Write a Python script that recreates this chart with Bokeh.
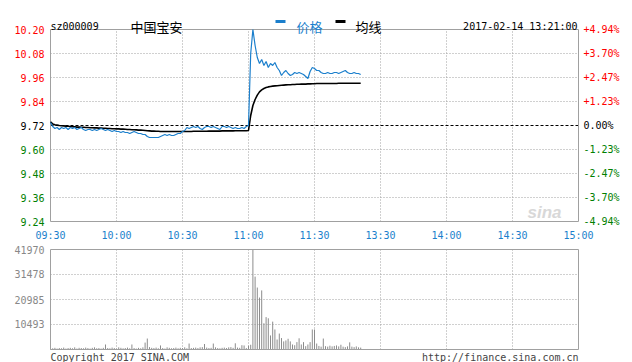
from bokeh.plotting import figure
from bokeh.layouts import column
from bokeh.models import ColumnDataSource, Range1d
from bokeh.core.properties import value
from bokeh.embed import file_html
from bokeh.resources import INLINE

# ---------------- data ----------------
code = "sz000009"
name = "中国宝安"
stamp = "2017-02-14 13:21:00"
legend_price = "价格"
legend_avg = "均线"
prev_close = 9.72

time_ticks = [0, 30, 60, 90, 120, 150, 180, 210, 240]
time_labels = ["09:30", "10:00", "10:30", "11:00", "11:30", "13:30", "14:00", "14:30", "15:00"]

price_ticks = [10.20, 10.08, 9.96, 9.84, 9.72, 9.60, 9.48, 9.36, 9.24]
pct_labels = ["+4.94%", "+3.70%", "+2.47%", "+1.23%", "0.00%", "-1.23%", "-2.47%", "-3.70%", "-4.94%"]
vol_ticks = [41970, 31478, 20985, 10493]

price = [
    9.735, 9.715, 9.705, 9.71, 9.70, 9.71, 9.705, 9.71, 9.70, 9.71,
    9.705, 9.71, 9.70, 9.705, 9.71, 9.70, 9.695, 9.70, 9.70, 9.695,
    9.70, 9.695, 9.70, 9.705, 9.70, 9.695, 9.70, 9.695, 9.69, 9.695,
    9.69, 9.69, 9.685, 9.69, 9.685, 9.685, 9.68, 9.685, 9.69, 9.685,
    9.68, 9.68, 9.675, 9.675, 9.665, 9.66, 9.66, 9.66, 9.66, 9.66,
    9.665, 9.67, 9.675, 9.67, 9.675, 9.67, 9.67, 9.675, 9.68, 9.68,
    9.69, 9.695, 9.71, 9.705, 9.71, 9.715, 9.71, 9.715, 9.705, 9.70,
    9.71, 9.715, 9.715, 9.71, 9.715, 9.71, 9.705, 9.70, 9.715, 9.715,
    9.71, 9.715, 9.71, 9.705, 9.71, 9.705, 9.705, 9.71, 9.705, 9.715,
    9.72, 10.08, 10.20, 10.12, 10.06, 10.03, 10.05, 10.02, 10.04, 10.01,
    10.03, 10.02, 10.035, 10.01, 9.995, 9.97, 9.985, 9.995, 9.98, 9.97,
    9.975, 9.985, 9.98, 9.985, 9.98, 9.975, 9.965, 9.955, 9.99, 10.01,
    10.005, 9.995, 9.995, 9.985, 9.98, 9.98, 9.985, 9.98, 9.98, 9.985,
    9.985, 9.98, 9.985, 9.99, 9.995, 9.985, 9.98, 9.98, 9.985, 9.98,
    9.98, 9.975,
]

avg = [
    9.738, 9.728, 9.724, 9.722, 9.720, 9.719, 9.718, 9.717, 9.716, 9.715,
    9.714, 9.713, 9.712, 9.712, 9.711, 9.711, 9.710, 9.710, 9.709, 9.709,
    9.708, 9.708, 9.707, 9.707, 9.706, 9.706, 9.705, 9.705, 9.704, 9.704,
    9.703, 9.703, 9.702, 9.702, 9.701, 9.700, 9.700, 9.699, 9.699, 9.698,
    9.697, 9.697, 9.696, 9.695, 9.694, 9.693, 9.692, 9.692, 9.691, 9.691,
    9.690, 9.690, 9.690, 9.690, 9.690, 9.690, 9.690, 9.690, 9.690, 9.690,
    9.690, 9.690, 9.690, 9.690, 9.690, 9.691, 9.691, 9.691, 9.691, 9.691,
    9.691, 9.691, 9.692, 9.692, 9.692, 9.692, 9.692, 9.692, 9.693, 9.693,
    9.693, 9.693, 9.693, 9.693, 9.694, 9.694, 9.694, 9.694, 9.694, 9.694,
    9.695,
    9.77, 9.82, 9.85, 9.872, 9.888, 9.898, 9.905, 9.910, 9.913, 9.915,
    9.917, 9.918, 9.919, 9.920, 9.921, 9.922, 9.923, 9.924, 9.924, 9.925,
    9.925, 9.926, 9.926, 9.927, 9.927, 9.927, 9.928, 9.928, 9.929, 9.929,
    9.930, 9.930, 9.930, 9.930, 9.930, 9.930, 9.930, 9.930, 9.930, 9.930,
    9.931, 9.931, 9.931, 9.931, 9.931, 9.931, 9.931, 9.931, 9.931, 9.931, 9.931,
]

volume = [
    1300, 500, 700, 400, 600, 500, 800, 400, 600, 700,
    500, 900, 400, 700, 600, 500, 800, 600, 400, 700,
    900, 500, 600, 400, 700, 2100, 600, 500, 800, 600,
    400, 900, 700, 500, 600, 800, 500, 2100, 600, 400,
    700, 500, 900, 2900, 4600, 1000, 700, 600, 800, 500,
    1700, 600, 400, 900, 700, 500, 600, 800, 500, 700,
    600, 900, 500, 2500, 600, 700, 800, 600, 900, 1000,
    2300, 800, 600, 700, 2500, 900, 600, 500, 700, 800,
    600, 900, 1000, 700, 2600, 800, 700, 1800, 1700, 600,
    1600,
    2000,
    41970, 30600, 26000, 21800, 24800, 11000, 13600, 13100, 5900, 11700,
    8400, 4200, 6700, 4800, 3400, 3800, 4500, 3400, 2100, 1800,
    3100, 4700, 2100, 3100, 1400, 2100, 3100, 8400, 8400, 2500,
    1500, 1200, 4600, 1400, 1200, 1600, 1300, 1500, 1700, 1300,
    2000, 1200, 1000, 1300, 3000, 1200, 1000, 1300, 900, 800,
]

minutes = list(range(len(price)))

# ---------------- styles / layout ----------------
BLUE = "#1B7FCC"
RED = "#FF0000"
GREEN = "#008000"
GRAY = "#A0A0A0"
MONO = "DejaVu Sans Mono"
CJK = "Noto Sans CJK SC"
FS = "10px"

W = 632
H1, H2 = 240, 122
P_LEFT, P_RIGHT = 50, 578          # panel edges in page pixels
P_TOP, P_BOTTOM = 29, 221          # price panel
V_TOP, V_BOTTOM = 9, 109           # volume panel (inside its own figure)

t0, t1 = time_ticks[0], time_ticks[-1]
ppm = (P_RIGHT - P_LEFT) / (t1 - t0)
x_start = t0 - P_LEFT / ppm
x_end = t1 + (W - P_RIGHT) / ppm

pmin, pmax = min(price_ticks), max(price_ticks)
ppy = (P_BOTTOM - P_TOP) / (pmax - pmin)
y_end = pmax + P_TOP / ppy
y_start = pmin - (H1 - P_BOTTOM) / ppy

vmax = max(vol_ticks)
vpy = (V_BOTTOM - V_TOP) / vmax
v_end = vmax + V_TOP / vpy
v_start = -(H2 - V_BOTTOM) / vpy


def mx(px):
    return x_start + px / ppm


def my(py):
    return y_end - py / ppy


def vy(py):
    return v_end - py / vpy


def label_color(v):
    if v > prev_close + 1e-9:
        return RED
    if v < prev_close - 1e-9:
        return GREEN
    return "#000000"


def bare(fig):
    fig.min_border = 0
    fig.outline_line_color = None
    fig.xgrid.visible = False
    fig.ygrid.visible = False
    fig.background_fill_color = "white"
    fig.border_fill_color = "white"


xr = Range1d(x_start, x_end)

# ---------------- main price panel ----------------
p = figure(width=W, height=H1, output_backend="svg", toolbar_location=None,
           x_range=xr, y_range=Range1d(y_start, y_end),
           x_axis_location=None, y_axis_location=None)
bare(p)

inner_t = time_ticks[1:-1]
p.segment(x0=inner_t, y0=[pmin] * len(inner_t), x1=inner_t, y1=[pmax] * len(inner_t),
          line_color=GRAY, line_dash="1 2", line_width=1)
inner_p = [t for t in price_ticks[1:-1] if abs(t - prev_close) > 1e-9]
p.segment(x0=[t0] * len(inner_p), y0=inner_p, x1=[t1] * len(inner_p), y1=inner_p,
          line_color=GRAY, line_dash="1 2", line_width=1)
p.segment(x0=[t0], y0=[prev_close], x1=[t1], y1=[prev_close],
          line_color="black", line_dash="3 2", line_width=1)
p.quad(left=[t0], right=[t1], bottom=[pmin], top=[pmax],
       fill_color=None, line_color=GRAY, line_width=1)

# watermark
p.text(x=[mx(527)], y=[my(212)], text=["sina"], text_font=value("Liberation Sans"),
       text_font_style="bold italic", text_font_size="17px", text_color="#D8D8D8",
       text_baseline="alphabetic")

p.line(minutes, avg, line_color="black", line_width=1.6)
p.line(minutes, price, line_color=BLUE, line_width=1.2)

left_src = ColumnDataSource(dict(
    y=price_ticks, x=[mx(44)] * len(price_ticks),
    text=["%.2f" % v for v in price_ticks],
    color=[label_color(v) for v in price_ticks]))
p.text(x="x", y="y", text="text", source=left_src, text_align="right",
       text_baseline="middle", text_color="color", text_font=value(MONO), text_font_size=FS)
right_src = ColumnDataSource(dict(
    y=price_ticks, x=[mx(583)] * len(price_ticks), text=pct_labels,
    color=[label_color(v) for v in price_ticks]))
p.text(x="x", y="y", text="text", source=right_src, text_align="left",
       text_baseline="middle", text_color="color", text_font=value(MONO), text_font_size=FS)

p.text(x=time_ticks, y=[my(235)] * len(time_ticks), text=time_labels, text_align="center",
       text_baseline="middle", text_color=BLUE, text_font=value(MONO), text_font_size=FS)

# header
hy = my(26)
p.text(x=[mx(50)], y=[hy], text=[code], text_font=value(MONO), text_font_size=FS,
       text_color="black", text_baseline="alphabetic")
p.text(x=[mx(130)], y=[hy], text=[name], text_font=value(CJK), text_font_size="13px",
       text_color="black", text_baseline="alphabetic")
p.rect(x=[mx(280)], y=[my(21)], width=10, height=3, width_units="screen",
       height_units="screen", fill_color=BLUE, line_color=None)
p.text(x=[mx(296)], y=[hy], text=[legend_price], text_font=value(CJK), text_font_size="13px",
       text_color=BLUE, text_baseline="alphabetic")
p.rect(x=[mx(340)], y=[my(21)], width=10, height=3, width_units="screen",
       height_units="screen", fill_color="black", line_color=None)
p.text(x=[mx(355)], y=[hy], text=[legend_avg], text_font=value(CJK), text_font_size="13px",
       text_color="black", text_baseline="alphabetic")
p.text(x=[mx(577)], y=[hy], text=[stamp], text_font=value(MONO), text_font_size=FS,
       text_color="black", text_align="right", text_baseline="alphabetic")

# ---------------- volume panel ----------------
v = figure(width=W, height=H2, output_backend="svg", toolbar_location=None,
           x_range=xr, y_range=Range1d(v_start, v_end),
           x_axis_location=None, y_axis_location=None)
bare(v)

v.segment(x0=inner_t, y0=[0] * len(inner_t), x1=inner_t, y1=[vmax] * len(inner_t),
          line_color=GRAY, line_dash="1 2", line_width=1)
inner_v = vol_ticks[1:]
v.segment(x0=[t0] * len(inner_v), y0=inner_v, x1=[t1] * len(inner_v), y1=inner_v,
          line_color=GRAY, line_dash="1 2", line_width=1)

v.segment(x0=minutes, y0=[0] * len(volume), x1=minutes, y1=volume,
          line_color="#8C8C8C", line_width=1)
v.quad(left=[t0], right=[t1], bottom=[0], top=[vmax],
       fill_color=None, line_color=GRAY, line_width=1)

v.text(x=[mx(44)] * len(vol_ticks), y=vol_ticks, text=[str(t) for t in vol_ticks],
       text_align="right", text_baseline="middle", text_color="#888888",
       text_font=value(MONO), text_font_size=FS)

v.text(x=[mx(50)], y=[vy(117)], text=["Copyright 2017 SINA.COM"], text_font=value(MONO),
       text_font_size=FS, text_color="#444444", text_baseline="alphabetic")
v.text(x=[mx(578)], y=[vy(117)], text=["http://finance.sina.com.cn"], text_font=value(MONO),
       text_font_size=FS, text_color="#444444", text_align="right", text_baseline="alphabetic")

layout = column(p, v, spacing=0)
open("out.html", "w").write(file_html(layout, INLINE))
